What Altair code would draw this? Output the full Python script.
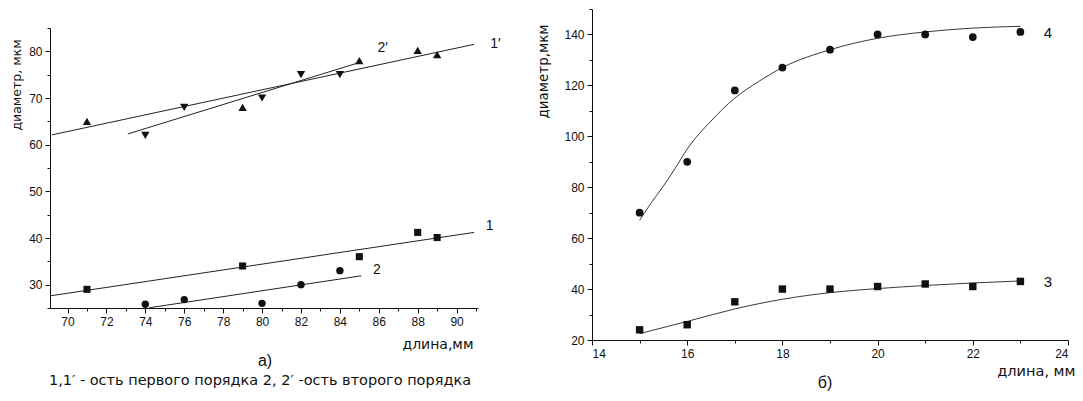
import altair as alt
import pandas as pd

FONT = "Liberation Sans"
WIDE = "DejaVu Sans"
INK = "#111111"

# ---------------- Panel а) ----------------
up_x = [71, 79, 85, 88, 89]            # 1'  (triangles up)
up_y = [65, 68, 78, 80.2, 79.3]
down_x = [74, 76, 80, 82, 84]          # 2'  (triangles down)
down_y = [62, 68, 70, 75, 75]
sq_x = [71, 79, 85, 88, 89]            # 1   (squares)
sq_y = [29, 34, 36, 41.2, 40.1]
ci_x = [74, 76, 80, 82, 84]            # 2   (circles)
ci_y = [25.8, 26.8, 26, 30, 33]

fit1p_x = [69.2, 90.9]
fit1p_y = [62.1, 81.5]
fit2p_x = [73.1, 85.0]
fit2p_y = [62.3, 77.6]
fit1_x = [69.1, 90.9]
fit1_y = [27.6, 41.2]
fit2_x = [74.2, 85.1]
fit2_y = [25.05, 31.9]

lab_a_text = ["1′", "2′", "1", "2"]
lab_a_x = [92.0, 86.2, 91.7, 85.9]
lab_a_y = [81.6, 80.7, 42.6, 33.1]

x1_ticks = list(range(70, 92))
y1_ticks = [25, 30, 35, 40, 45, 50, 55, 60, 65, 70, 75, 80, 85]

# ---------------- Panel б) ----------------
r_x = [15, 16, 17, 18, 19, 20, 21, 22, 23]
c4_y = [70, 90, 118, 127, 134, 140, 140, 139, 141]
s3_y = [24, 26, 35, 40, 40, 41, 42, 41, 43]
curve4_x = [15, 15.25, 15.5, 15.75, 16, 16.5, 17, 17.5, 18, 19, 20, 21, 22, 23]
curve4_y = [67, 74, 80.5, 87.5, 95, 106, 115, 121.5, 127, 134, 138.5, 141, 142.5, 143.2]
curve3_x = [15, 16, 17, 18, 19, 20, 21, 22, 23]
curve3_y = [22.5, 27.3, 32.2, 36, 38.6, 40.2, 41.4, 42.4, 43.2]

lab_b_text = ["4", "3"]
lab_b_x = [23.58, 23.58]
lab_b_y = [140.6, 42.8]

x2_ticks = list(range(14, 25))
y2_ticks = list(range(20, 151, 10))

# ---------------- helpers ----------------
W1, H1, TOP1 = 428, 299, 19
W2, H2 = 476, 331


def axis(ticks, major_test, title, tx, ty, angle=0, align="center", fs=13, tfont=FONT):
    return alt.Axis(
        values=ticks,
        labelExpr=f"({major_test}) ? datum.label : ''",
        labelOverlap=False,
        labelFont=FONT, labelColor=INK,
        labelFontSize={"condition": {"test": major_test, "value": 12}, "value": 0},
        labelPadding=3,
        tickSize={"condition": {"test": major_test, "value": 5}, "value": 3},
        tickColor=INK, domainColor=INK, tickWidth=1, domainWidth=1,
        grid=False,
        title=title, titleFont=tfont, titleFontSize=fs, titleFontWeight="normal",
        titleColor=INK, titleX=tx, titleY=ty, titleAngle=angle,
        titleAlign=align, titleBaseline="middle",
    )


xs1 = alt.Scale(domain=[69.1, 91.1], nice=False, zero=False)
ys1 = alt.Scale(domain=[25, 85], nice=False, zero=False, range=[H1, TOP1])
xa1 = axis(x1_ticks, "datum.value % 2 === 0", "длина,мм", 423, 36, 0, "right", 14, WIDE)
ya1 = axis(y1_ticks, "datum.value % 10 === 0", "диаметр, мкм", -34, 75.5, 270, "center", 12.5, WIDE)


def pts(xv, yv, shape, size):
    df = pd.DataFrame({"x": xv, "y": yv})
    return alt.Chart(df).mark_point(shape=shape, filled=True, size=size, color=INK, opacity=1).encode(
        x=alt.X("x:Q", scale=xs1, axis=xa1), y=alt.Y("y:Q", scale=ys1, axis=ya1))


def fit(xv, yv):
    df = pd.DataFrame({"x": xv, "y": yv})
    return alt.Chart(df).mark_line(color="#222222", strokeWidth=1).encode(
        x=alt.X("x:Q", scale=xs1, axis=xa1), y=alt.Y("y:Q", scale=ys1, axis=ya1))


labs_a = alt.Chart(pd.DataFrame({"x": lab_a_x, "y": lab_a_y, "t": lab_a_text})).mark_text(
    font=FONT, fontSize=14, color=INK, align="center", baseline="middle", clip=False
).encode(x=alt.X("x:Q", scale=xs1, axis=xa1), y=alt.Y("y:Q", scale=ys1, axis=ya1), text="t:N")

cap_a = alt.Chart(pd.DataFrame({"t": ["а)"]})).mark_text(
    font=FONT, fontSize=16, color=INK, align="center", baseline="middle"
).encode(x=alt.value(215), y=alt.value(352), text="t:N")
cap_a2 = alt.Chart(pd.DataFrame({"t": ["1,1′ - ость первого порядка 2, 2′ -ость второго порядка"]})).mark_text(
    font=WIDE, fontSize=14.5, color=INK, align="center", baseline="middle"
).encode(x=alt.value(210), y=alt.value(372), text="t:N")

left = alt.layer(
    fit(fit1p_x, fit1p_y), fit(fit2p_x, fit2p_y), fit(fit1_x, fit1_y), fit(fit2_x, fit2_y),
    pts(up_x, up_y, "triangle-up", 70), pts(down_x, down_y, "triangle-down", 70),
    pts(sq_x, sq_y, "square", 50), pts(ci_x, ci_y, "circle", 55),
    labs_a, cap_a, cap_a2,
).properties(width=W1, height=H1)

# right panel
xs2 = alt.Scale(domain=[14, 24], nice=False, zero=False)
ys2 = alt.Scale(domain=[20, 150], nice=False, zero=False)
xa2 = axis(x2_ticks, "datum.value % 2 === 0", "длина, мм", 483, 31, 0, "right", 14.5, WIDE)
ya2 = axis(y2_ticks, "datum.value % 20 === 0", "диаметр,мкм", -49, 62, 270, "center", 13.5, WIDE)


def pts2(xv, yv, shape, size):
    df = pd.DataFrame({"x": xv, "y": yv})
    return alt.Chart(df).mark_point(shape=shape, filled=True, size=size, color=INK, opacity=1).encode(
        x=alt.X("x:Q", scale=xs2, axis=xa2), y=alt.Y("y:Q", scale=ys2, axis=ya2))


def curve(xv, yv):
    df = pd.DataFrame({"x": xv, "y": yv})
    return alt.Chart(df).mark_line(color="#3a3a3a", strokeWidth=1, interpolate="monotone").encode(
        x=alt.X("x:Q", scale=xs2, axis=xa2), y=alt.Y("y:Q", scale=ys2, axis=ya2))


labs_b = alt.Chart(pd.DataFrame({"x": lab_b_x, "y": lab_b_y, "t": lab_b_text})).mark_text(
    font=FONT, fontSize=15, color=INK, align="center", baseline="middle", clip=False
).encode(x=alt.X("x:Q", scale=xs2, axis=xa2), y=alt.Y("y:Q", scale=ys2, axis=ya2), text="t:N")

cap_b = alt.Chart(pd.DataFrame({"t": ["б)"]})).mark_text(
    font=FONT, fontSize=16, color=INK, align="center", baseline="middle"
).encode(x=alt.value(233), y=alt.value(374), text="t:N")

right = alt.layer(
    curve(curve4_x, curve4_y), curve(curve3_x, curve3_y),
    pts2(r_x, c4_y, "circle", 60), pts2(r_x, s3_y, "square", 55),
    labs_b, cap_b,
).properties(width=W2, height=H2)

chart = alt.hconcat(left, right, spacing=35).properties(
    padding={"left": 2, "top": 0, "right": 0, "bottom": 0}, background="white"
).configure_view(strokeOpacity=0)

chart.save("out.html", embed_options={"renderer": "svg", "actions": False})
